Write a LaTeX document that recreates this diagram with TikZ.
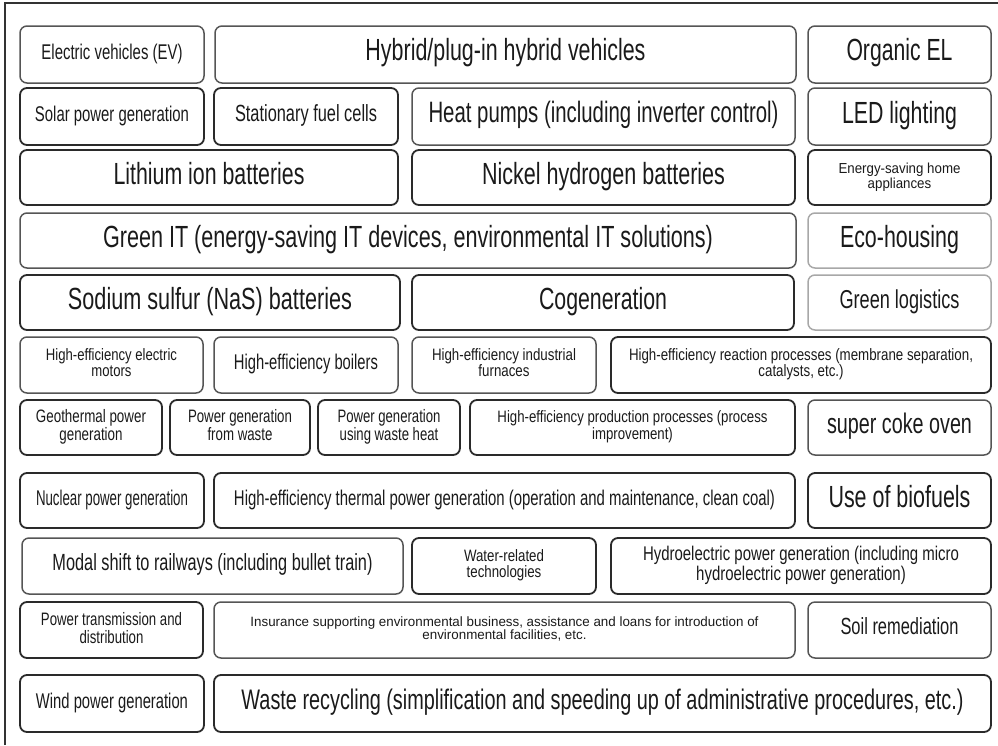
\documentclass[tikz,border=0pt]{standalone}
\usepackage{fontspec}
\setmainfont{Liberation Sans}
\usepackage{graphicx}
\definecolor{txt}{HTML}{1A1A1A}
\definecolor{bdark}{HTML}{2A2A2A}
\definecolor{bmid}{HTML}{555555}
\definecolor{blight}{HTML}{A8A8A8}
\definecolor{frame}{HTML}{333333}
\tikzset{
  box/.style={rounded corners=7pt, inner sep=0pt, outer sep=0pt, text=txt},
  dk/.style={box, draw=bdark, line width=1.8pt},
  md/.style={box, draw=bmid, line width=1.5pt},
  lt/.style={box, draw=blight, line width=1.5pt},
  framestyle/.style={draw=frame, line width=1.5pt},
}
% width, font size, leading, text
\newcommand{\tx}[4]{\resizebox{#1pt}{\height}{\fontsize{#2}{#3}\selectfont\begin{tabular}{@{}c@{}}#4\end{tabular}}}
% name, x1, y1, x2, y2, style, text
\newcommand{\bx}[7]{\node[#6, minimum width={(#4-#2)*1pt}, minimum height={(#5-#3)*1pt}] (#1) at ({(#2+#4)/2},{(#3+#5)/2}) {#7};}
\begin{document}
\begin{tikzpicture}[x=1pt,y=-1pt]
\useasboundingbox (0,0) rectangle (998,745);
\coordinate (fbl) at (5,745);
\coordinate (ftl) at (5,3);
\coordinate (ftr) at (998,3);
\draw[framestyle] (fbl) -- (ftl) -- (ftr);
% Row 1
\bx{ev}{20}{26}{204}{83}{md}{\tx{141}{21.3}{21.3}{Electric vehicles (EV)}}
\bx{hyb}{215}{26}{796}{83}{md}{\tx{280}{30.6}{30.6}{Hybrid/plug-in hybrid vehicles}}
\bx{oel}{808}{26}{991}{83}{md}{\tx{106}{30.6}{30.6}{Organic EL}}
% Row 2
\bx{sol}{20}{88}{204}{145}{dk}{\tx{154}{21.3}{21.3}{Solar power generation}}
\bx{sfc}{214}{88}{398}{145}{dk}{\tx{142}{23.4}{23.4}{Stationary fuel cells}}
\bx{hp}{412}{88}{795}{145}{md}{\tx{350}{29.5}{29.5}{Heat pumps (including inverter control)}}
\bx{led}{808}{88}{991}{145}{md}{\tx{115}{30.6}{30.6}{LED lighting}}
% Row 3
\bx{lib}{20}{150}{398}{205}{dk}{\tx{191}{30.6}{30.6}{Lithium ion batteries}}
\bx{nhb}{412}{150}{795}{205}{dk}{\tx{243}{30.6}{30.6}{Nickel hydrogen batteries}}
\bx{esh}{808}{150}{991}{205}{dk}{\tx{122}{14.5}{14}{Energy-saving home\\appliances}}
% Row 4
\bx{git}{20}{213}{796}{268}{md}{\tx{610}{30.6}{30.6}{Green IT (energy-saving IT devices, environmental IT solutions)}}
\bx{eco}{808}{213}{991}{268}{lt}{\tx{119}{30.6}{30.6}{Eco-housing}}
% Row 5
\bx{nas}{20}{275}{400}{330}{dk}{\tx{284}{30.6}{30.6}{Sodium sulfur (NaS) batteries}}
\bx{cog}{412}{275}{794}{330}{dk}{\tx{128}{30.6}{30.6}{Cogeneration}}
\bx{glo}{808}{275}{991}{330}{lt}{\tx{120}{25.9}{25.9}{Green logistics}}
% Row 6
\bx{mot}{20}{337}{203}{393}{md}{\tx{131}{16.5}{15.5}{High-efficiency electric\\motors}}
\bx{boi}{214}{337}{398}{393}{md}{\tx{144}{21.3}{21.3}{High-efficiency boilers}}
\bx{fur}{412}{337}{596}{393}{md}{\tx{144}{16.5}{15.5}{High-efficiency industrial\\furnaces}}
\bx{rea}{611}{337}{991}{393}{dk}{\tx{344}{16.5}{15.5}{High-efficiency reaction processes (membrane separation,\\catalysts, etc.)}}
% Row 7
\bx{geo}{20}{400}{162}{455}{dk}{\tx{110}{18}{15.5}{Geothermal power\\generation}}
\bx{pgw}{170}{400}{310}{455}{dk}{\tx{104}{18}{15.5}{Power generation\\from waste}}
\bx{pwh}{318}{400}{460}{455}{dk}{\tx{103}{18}{15.5}{Power generation\\using waste heat}}
\bx{hpp}{470}{400}{795}{455}{dk}{\tx{270}{16.5}{15.5}{High-efficiency production processes (process\\improvement)}}
\bx{sco}{808}{400}{991}{455}{md}{\tx{145}{28.3}{28.3}{super coke oven}}
% Row 8
\bx{nuc}{20}{473}{204}{528}{dk}{\tx{152}{21.3}{21.3}{Nuclear power generation}}
\bx{htp}{214}{473}{795}{528}{dk}{\tx{541}{21.3}{21.3}{High-efficiency thermal power generation (operation and maintenance, clean coal)}}
\bx{bio}{808}{473}{991}{528}{dk}{\tx{142}{30.6}{30.6}{Use of biofuels}}
% Row 9
\bx{mod}{22}{538}{403}{594}{md}{\tx{320}{23.4}{23.4}{Modal shift to railways (including bullet train)}}
\bx{wat}{412}{538}{596}{594}{dk}{\tx{80}{16.5}{15.5}{Water-related\\technologies}}
\bx{hyd}{611}{538}{991}{594}{dk}{\tx{316}{19.8}{17}{Hydroelectric power generation (including micro\\hydroelectric power generation)}}
% Row 10
\bx{ptd}{20}{602}{203}{658}{dk}{\tx{141}{18}{15.5}{Power transmission and\\distribution}}
\bx{ins}{214}{602}{795}{658}{md}{\tx{508}{13.5}{11.5}{Insurance supporting environmental business, assistance and loans for introduction of\\environmental facilities, etc.}}
\bx{soi}{808}{602}{991}{658}{md}{\tx{118}{23.4}{23.4}{Soil remediation}}
% Row 11
\bx{win}{20}{675}{204}{732}{dk}{\tx{152}{21.3}{21.3}{Wind power generation}}
\bx{rec}{214}{675}{991}{732}{dk}{\tx{722}{28.3}{28.3}{Waste recycling (simplification and speeding up of administrative procedures, etc.)}}
\end{tikzpicture}
\end{document}
